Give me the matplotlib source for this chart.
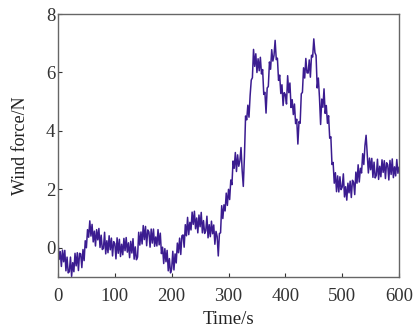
import numpy as np
import matplotlib.pyplot as plt

plt.rcParams['font.family'] = ['Liberation Serif', 'DejaVu Serif']

time_step = 2
force = [
    0.25, -0.40, -0.13, -0.64, -0.08, -0.48, -0.09, -0.79, -0.32, -0.86,
    -0.82, -0.32, -0.98, -0.51, -0.82, -0.19, -0.62, -0.17, -0.78, -0.19,
    -0.21, -0.68, -0.06, -0.44, 0.24, 0.00, 0.62, 0.36, 0.92, 0.40,
    0.80, 0.20, 0.57, 0.06, 0.62, 0.27, 0.66, 0.01, 0.43, -0.06,
    -0.02, 0.53, -0.21, 0.24, -0.17, 0.41, -0.07, 0.33, -0.28, 0.21,
    0.14, -0.38, 0.34, -0.19, 0.29, -0.30, 0.12, -0.24, 0.32, -0.10,
    0.35, -0.15, 0.17, -0.34, 0.22, -0.18, 0.31, -0.39, 0.03, -0.41,
    -0.32, 0.53, 0.09, 0.54, 0.13, 0.76, 0.28, 0.73, 0.07, 0.61,
    0.54, 0.02, 0.64, 0.16, 0.64, 0.05, 0.37, 0.06, 0.62, 0.10,
    0.50, -0.20, 0.02, -0.54, -0.03, -0.48, -0.09, -0.79, -0.37, -0.86,
    -0.72, -0.12, -0.76, -0.21, -0.52, 0.16, -0.17, 0.33, -0.23, 0.41,
    0.44, 0.02, 0.79, 0.41, 1.04, 0.45, 0.87, 0.61, 1.22, 0.80,
    1.25, 0.65, 1.02, 0.51, 1.12, 0.72, 1.21, 0.51, 0.93, 0.49,
    0.58, 1.08, 0.34, 0.79, 0.38, 0.91, 0.48, 0.78, 0.12, 0.56,
    0.39, -0.28, 0.49, 0.51, 1.44, 1.00, 1.47, 1.26, 1.87, 1.45,
    2.00, 1.65, 2.32, 2.16, 2.97, 2.72, 3.26, 2.61, 3.18, 2.79,
    2.98, 3.43, 2.64, 2.10, 3.13, 4.51, 4.38, 4.88, 4.47, 5.21,
    5.74, 5.82, 6.79, 6.21, 6.64, 6.00, 6.47, 6.06, 6.52, 5.95,
    6.10, 5.25, 5.32, 4.61, 5.47, 5.52, 6.36, 6.11, 6.78, 6.39,
    6.58, 7.10, 6.44, 6.49, 5.73, 5.91, 5.28, 5.58, 4.87, 5.31,
    5.24, 4.92, 5.89, 5.31, 5.64, 4.80, 5.07, 4.56, 4.92, 4.25,
    4.40, 3.55, 4.32, 4.26, 5.27, 5.32, 6.16, 5.81, 6.48, 5.99,
    5.98, 6.43, 5.84, 6.59, 6.53, 7.15, 6.68, 6.58, 5.47, 5.81,
    5.14, 4.22, 5.09, 4.81, 5.44, 4.60, 4.87, 4.26, 4.52, 3.75,
    3.80, 2.85, 2.92, 2.21, 2.57, 1.92, 2.46, 1.91, 2.43, 1.99,
    2.08, 2.53, 1.74, 2.09, 1.63, 2.21, 1.88, 2.28, 1.72, 2.31,
    2.24, 1.82, 2.59, 2.21, 2.84, 2.25, 2.72, 2.56, 3.22, 2.85,
    3.50, 3.85, 3.22, 2.56, 3.07, 2.67, 3.06, 2.41, 2.93, 2.39,
    2.48, 3.03, 2.34, 2.79, 2.43, 3.01, 2.58, 2.98, 2.37, 2.91,
    2.84, 2.32, 2.99, 2.51, 3.04, 2.40, 2.77, 2.46, 3.02, 2.55,
    2.75,
]
time = np.arange(len(force)) * time_step

x_ticks = [0, 100, 200, 300, 400, 500, 600]
y_ticks = [0, 2, 4, 6, 8]

fig = plt.figure(figsize=(4.17, 3.27), dpi=100)
ax = fig.add_axes([0.139, 0.153, 0.818, 0.804])

ax.plot(time, force, color='#3b1c90', linewidth=1.1)

ax.set_xlim(0, 600)
ax.set_ylim(-1, 8)
ax.set_xticks(x_ticks)
ax.set_yticks(y_ticks)
ax.tick_params(direction='in', length=3, width=0.8, labelsize=13.5,
               colors='#333333')
ax.tick_params(axis='x', pad=8)
ax.tick_params(axis='y', pad=2)
for s in ax.spines.values():
    s.set_color('#666666')
    s.set_linewidth(1.0)

ax.set_xlabel('Time/s', fontsize=13.5, labelpad=4, color='#222222')
ax.set_ylabel('Wind force/N', fontsize=13, labelpad=12, color='#222222')

fig.savefig('out.png', dpi=100)
